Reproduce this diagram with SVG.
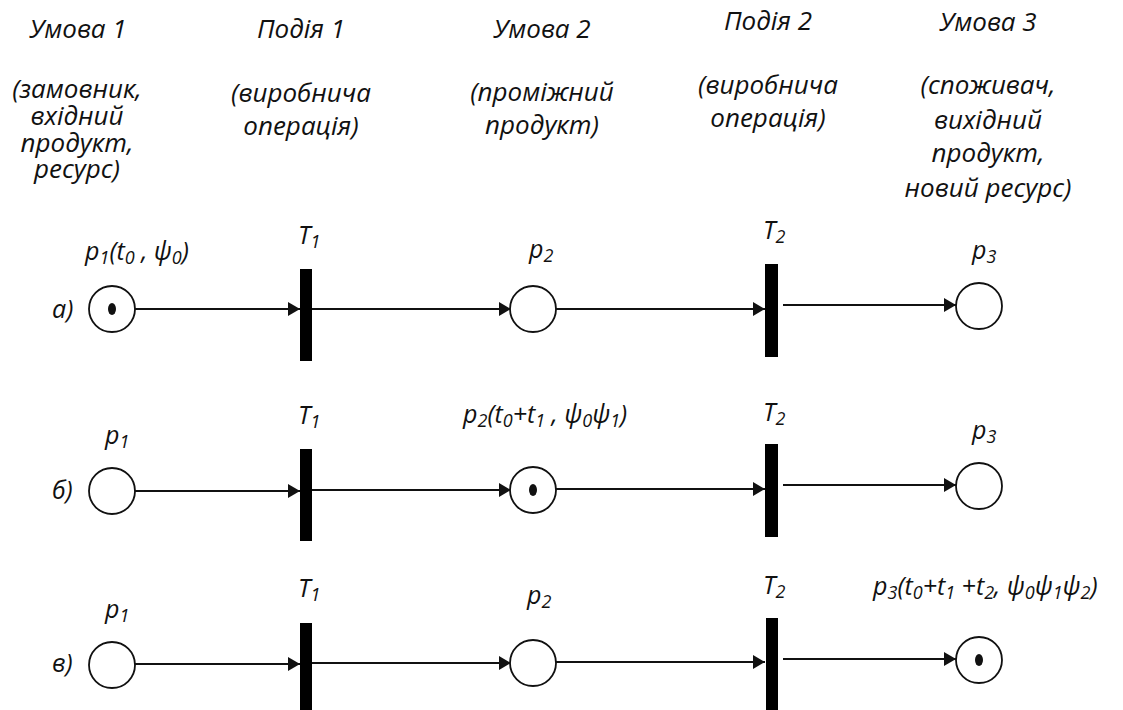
<svg xmlns="http://www.w3.org/2000/svg" width="1123" height="710" viewBox="0 0 1123 710">
  <defs>
    <style>
      text { font-family: "Open Sans", "Liberation Sans", sans-serif; font-style: italic; fill: #111; }
      .hd { font-size: 26px; text-anchor: middle; }
      .lb { font-size: 25px; }
      .sub { font-size: 18px; }
      .place { fill: #fff; stroke: #111; stroke-width: 1.8; }
      .token { fill: #111; }
      .bar { fill: #000; }
      .arc { stroke: #111; stroke-width: 2; fill: none; marker-end: url(#ah); }
    </style>
    <marker id="ah" markerWidth="12" markerHeight="14" refX="12" refY="7" orient="auto" markerUnits="userSpaceOnUse">
      <path d="M0,0 L12,7 L0,14 Z" fill="#111"/>
    </marker>
  </defs>
  <rect width="1123" height="710" fill="#fff"/>

  <!-- column headers -->
  <g id="header-condition1">
    <text class="hd" x="78" y="38">Умова 1</text>
    <text class="hd" x="77" y="98">(замовник,</text>
    <text class="hd" x="77" y="125">вхідний</text>
    <text class="hd" x="77" y="152">продукт,</text>
    <text class="hd" x="77" y="178">ресурс)</text>
  </g>
  <g id="header-event1">
    <text class="hd" x="301" y="38">Подія 1</text>
    <text class="hd" x="301" y="102">(виробнича</text>
    <text class="hd" x="301" y="135">операція)</text>
  </g>
  <g id="header-condition2">
    <text class="hd" x="542" y="38">Умова 2</text>
    <text class="hd" x="542" y="101">(проміжний</text>
    <text class="hd" x="542" y="134">продукт)</text>
  </g>
  <g id="header-event2">
    <text class="hd" x="768" y="30">Подія 2</text>
    <text class="hd" x="768" y="94">(виробнича</text>
    <text class="hd" x="768" y="127">операція)</text>
  </g>
  <g id="header-condition3">
    <text class="hd" x="988" y="31">Умова 3</text>
    <text class="hd" x="988" y="94">(споживач,</text>
    <text class="hd" x="988" y="129">вихідний</text>
    <text class="hd" x="988" y="162">продукт,</text>
    <text class="hd" x="988" y="197">новий ресурс)</text>
  </g>

  <!-- row labels -->
  <g id="row-labels">
    <text class="lb" x="52" y="318">а)</text>
    <text class="lb" x="52" y="499">б)</text>
    <text class="lb" x="52" y="672">в)</text>
  </g>

  <!-- connectors -->
  <g id="connectors">
    <!-- row а -->
    <line class="arc" x1="135" y1="309" x2="300" y2="309"/>
    <line class="arc" x1="312" y1="309" x2="511" y2="309"/>
    <line class="arc" x1="556" y1="309" x2="765" y2="309"/>
    <line class="arc" x1="783" y1="305" x2="956" y2="305"/>
    <!-- row б -->
    <line class="arc" x1="135" y1="491" x2="300" y2="491"/>
    <line class="arc" x1="312" y1="490" x2="511" y2="490"/>
    <line class="arc" x1="556" y1="489" x2="765" y2="489"/>
    <line class="arc" x1="783" y1="485" x2="956" y2="485"/>
    <!-- row в -->
    <line class="arc" x1="135" y1="664" x2="300" y2="664"/>
    <line class="arc" x1="312" y1="663" x2="511" y2="663"/>
    <line class="arc" x1="556" y1="662" x2="765" y2="662"/>
    <line class="arc" x1="783" y1="659" x2="956" y2="659"/>
  </g>

  <!-- row а -->
  <g id="a-p1">
    <circle class="place" cx="112" cy="309" r="23"/>
    <ellipse class="token" cx="112" cy="309" rx="4" ry="6"/>
    <text class="lb" x="85" y="260">p<tspan class="sub" dy="4">1</tspan><tspan dy="-4">(t</tspan><tspan class="sub" dy="4">0</tspan><tspan dy="-4"> , ψ</tspan><tspan class="sub" dy="4">0</tspan><tspan dy="-4">)</tspan></text>
  </g>
  <g id="a-T1">
    <rect class="bar" x="300" y="269" width="12" height="92"/>
    <text class="lb" x="298" y="244">T<tspan class="sub" dy="4">1</tspan></text>
  </g>
  <g id="a-p2">
    <circle class="place" cx="533" cy="309" r="23"/>
    <text class="lb" x="529" y="258">p<tspan class="sub" dy="4">2</tspan></text>
  </g>
  <g id="a-T2">
    <rect class="bar" x="765" y="264" width="13" height="93"/>
    <text class="lb" x="763" y="239">T<tspan class="sub" dy="4">2</tspan></text>
  </g>
  <g id="a-p3">
    <circle class="place" cx="979" cy="306" r="23"/>
    <text class="lb" x="972" y="259">p<tspan class="sub" dy="4">3</tspan></text>
  </g>

  <!-- row б -->
  <g id="b-p1">
    <circle class="place" cx="112" cy="491" r="23"/>
    <text class="lb" x="105" y="444">p<tspan class="sub" dy="4">1</tspan></text>
  </g>
  <g id="b-T1">
    <rect class="bar" x="300" y="449" width="12" height="92"/>
    <text class="lb" x="298" y="424">T<tspan class="sub" dy="4">1</tspan></text>
  </g>
  <g id="b-p2">
    <circle class="place" cx="533" cy="490" r="23"/>
    <ellipse class="token" cx="533" cy="490" rx="4" ry="6"/>
    <text class="lb" x="463" y="423">p<tspan class="sub" dy="4">2</tspan><tspan dy="-4">(t</tspan><tspan class="sub" dy="4">0</tspan><tspan dy="-4">+t</tspan><tspan class="sub" dy="4">1</tspan><tspan dy="-4"> , ψ</tspan><tspan class="sub" dy="4">0</tspan><tspan dy="-4">ψ</tspan><tspan class="sub" dy="4">1</tspan><tspan dy="-4">)</tspan></text>
  </g>
  <g id="b-T2">
    <rect class="bar" x="765" y="444" width="13" height="93"/>
    <text class="lb" x="763" y="421">T<tspan class="sub" dy="4">2</tspan></text>
  </g>
  <g id="b-p3">
    <circle class="place" cx="979" cy="486" r="23"/>
    <text class="lb" x="972" y="439">p<tspan class="sub" dy="4">3</tspan></text>
  </g>

  <!-- row в -->
  <g id="c-p1">
    <circle class="place" cx="112" cy="665" r="23"/>
    <text class="lb" x="105" y="618">p<tspan class="sub" dy="4">1</tspan></text>
  </g>
  <g id="c-T1">
    <rect class="bar" x="300" y="623" width="12" height="92"/>
    <text class="lb" x="298" y="597">T<tspan class="sub" dy="4">1</tspan></text>
  </g>
  <g id="c-p2">
    <circle class="place" cx="533" cy="663" r="23"/>
    <text class="lb" x="527" y="604">p<tspan class="sub" dy="4">2</tspan></text>
  </g>
  <g id="c-T2">
    <rect class="bar" x="766" y="618" width="12" height="97"/>
    <text class="lb" x="763" y="594">T<tspan class="sub" dy="4">2</tspan></text>
  </g>
  <g id="c-p3">
    <circle class="place" cx="979" cy="660" r="23"/>
    <ellipse class="token" cx="979" cy="660" rx="4" ry="6"/>
    <text class="lb" x="873" y="595">p<tspan class="sub" dy="4">3</tspan><tspan dy="-4">(t</tspan><tspan class="sub" dy="4">0</tspan><tspan dy="-4">+t</tspan><tspan class="sub" dy="4">1</tspan><tspan dy="-4"> +t</tspan><tspan class="sub" dy="4">2</tspan><tspan dy="-4">, ψ</tspan><tspan class="sub" dy="4">0</tspan><tspan dy="-4">ψ</tspan><tspan class="sub" dy="4">1</tspan><tspan dy="-4">ψ</tspan><tspan class="sub" dy="4">2</tspan><tspan dy="-4">)</tspan></text>
  </g>
</svg>
